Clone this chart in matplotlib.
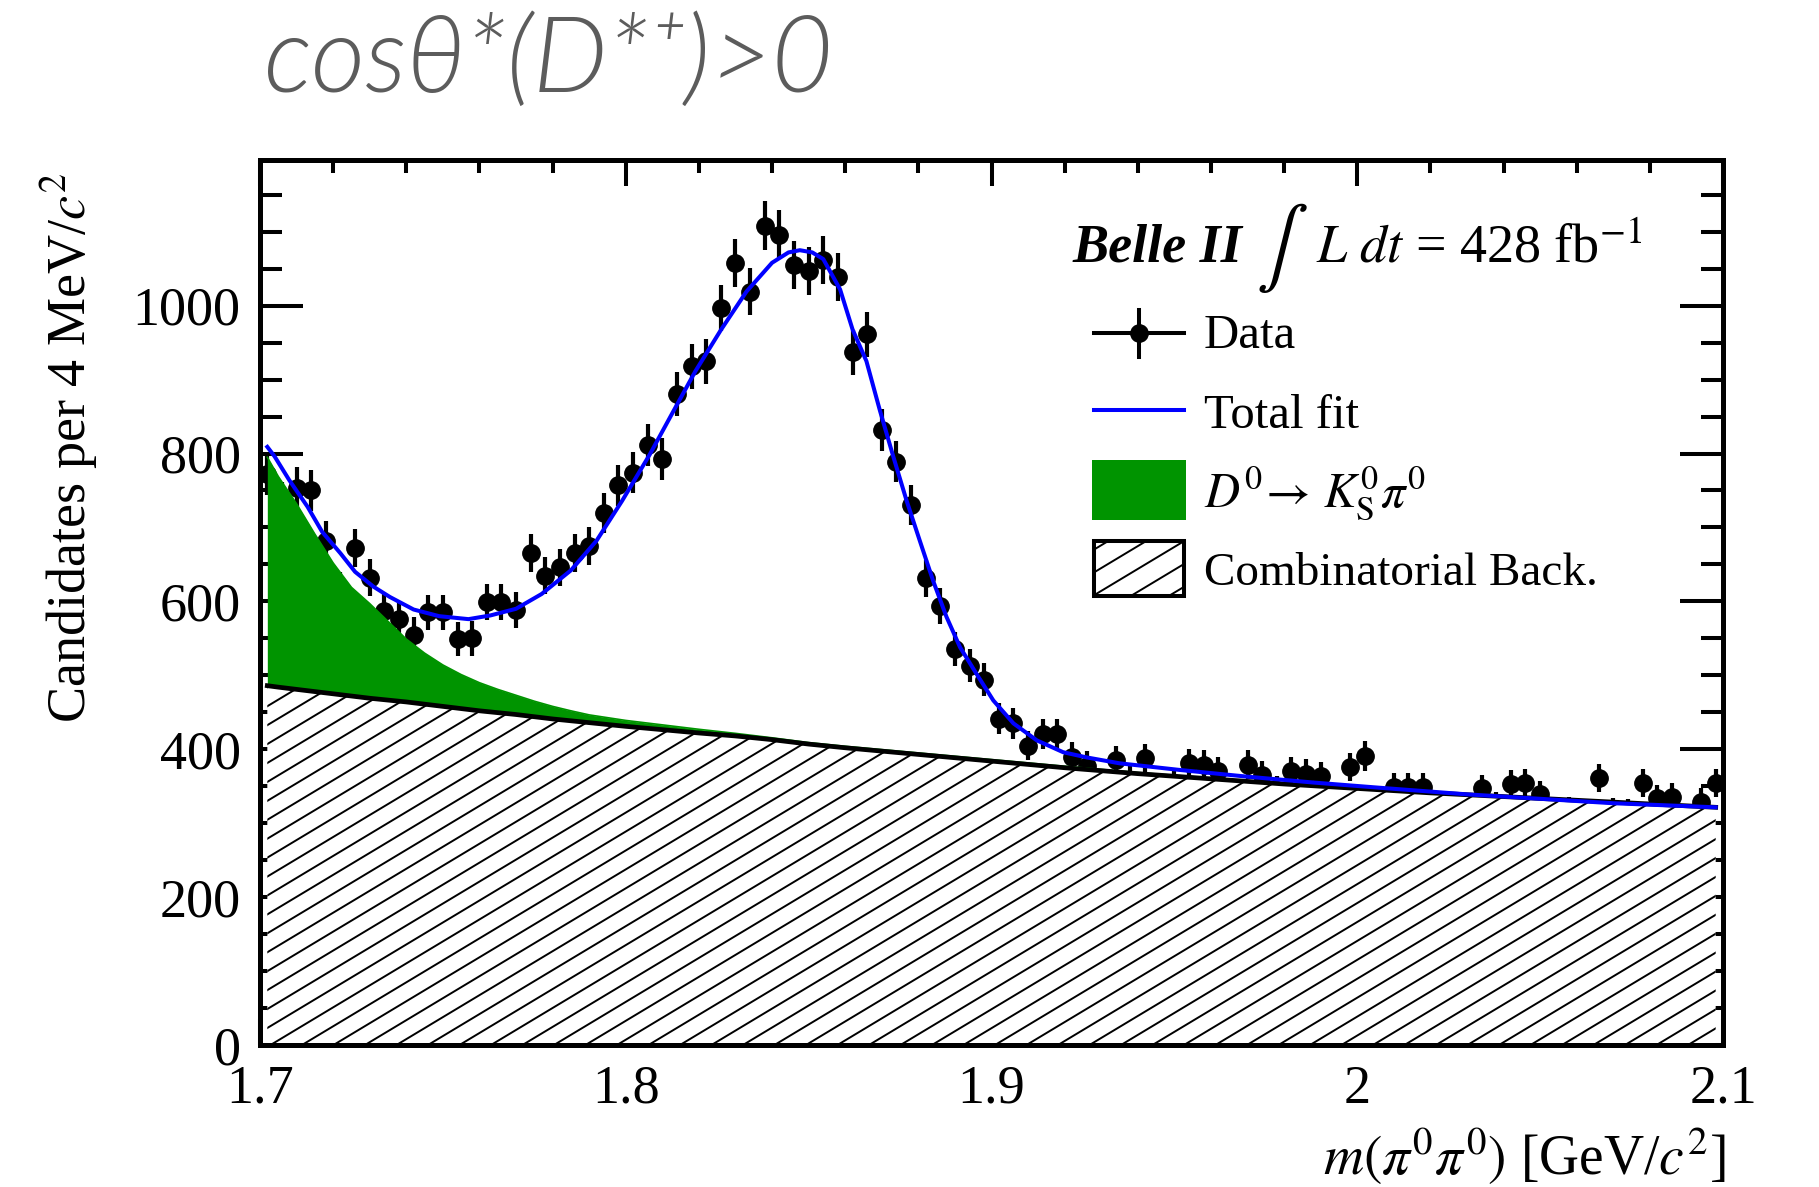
import numpy as np
import matplotlib
matplotlib.use("Agg")
import matplotlib.pyplot as plt
from matplotlib.ticker import MultipleLocator, AutoMinorLocator, FuncFormatter
from matplotlib.patches import Polygon, Rectangle
from matplotlib.collections import LineCollection
from matplotlib.lines import Line2D

plt.rcParams['font.family'] = ['Liberation Serif', 'DejaVu Serif']
plt.rcParams['mathtext.fontset'] = 'stix'

# m(pi0 pi0) histogram, 4 MeV bins from 1.7 to 2.1 GeV
bin_edges = np.linspace(1.7, 2.1, 101)
counts = np.array([
    772, 735, 754, 750, 682, 615, 672, 632, 587, 576,
    555, 585, 585, 549, 550, 599, 599, 588, 665, 635,
    646, 666, 675, 720, 757, 774, 812, 793, 880, 918,
    925, 997, 1058, 1019, 1108, 1096, 1055, 1047, 1062, 1039,
    937, 961, 832, 789, 730, 631, 594, 536, 513, 494,
    441, 435, 405, 421, 421, 390, 378, 350, 385, 358,
    388, 348, 355, 381, 379, 370, 340, 379, 365, 345,
    370, 367, 364, 330, 376, 391, 325, 349, 349, 349,
    320, 322, 318, 347, 324, 353, 355, 339, 315, 318,
    312, 361, 316, 315, 354, 334, 336, 305, 329, 354])

# fit components (stacked): combinatorial background and background + D0 -> Ks pi0
comp_x = [1.702, 1.705, 1.710, 1.715, 1.720, 1.725, 1.730, 1.735, 1.740, 1.745,
          1.750, 1.755, 1.760, 1.765, 1.770, 1.775, 1.780, 1.785, 1.790, 1.800,
          1.810, 1.820, 1.830, 1.840, 1.850, 1.860, 1.870, 1.880, 1.890, 1.900,
          1.920, 1.940, 1.960, 1.980, 2.000, 2.020, 2.040, 2.060, 2.080, 2.098]
comb_bkg = [486, 484, 481, 478, 475, 472, 469, 466.5, 464, 461,
            458, 455, 452, 449.5, 447, 444, 441, 438.5, 436, 431,
            426.5, 422, 418, 413, 407, 402, 397.5, 393, 388.5, 384,
            375, 367, 360, 353, 347, 341, 336, 331, 326, 321.5]
ks_stack = [795, 769, 732, 691, 652, 619, 597, 573, 549, 530,
            514, 501, 490, 481, 473, 465, 458, 452, 446.5, 439,
            433, 427, 421.5, 415.5, 409, 404, 399.5, 395, 390.5, 386,
            377, 368.5, 361, 353.8, 347.4, 341.2, 336, 331, 326, 321.5]

# total fit curve
fit_x = [1.702, 1.704, 1.708, 1.713, 1.717, 1.722, 1.726, 1.731, 1.7355, 1.742,
         1.749, 1.757, 1.763, 1.770, 1.777, 1.785, 1.792, 1.799, 1.8066, 1.813,
         1.819, 1.826, 1.833, 1.840, 1.8445, 1.8476, 1.851, 1.854, 1.8586, 1.862,
         1.8658, 1.8695, 1.8732, 1.8768, 1.8804, 1.8841, 1.8877, 1.8914, 1.8959, 1.9005,
         1.906, 1.9124, 1.9196, 1.926, 1.935, 1.9515, 1.9698, 1.988, 2.006, 2.03,
         2.05, 2.07, 2.098]
fit_y = [809, 796, 764, 728, 694, 665, 640, 620, 606, 589,
         580, 576, 581, 590, 610, 642, 682, 736, 799, 857,
         911, 967, 1019, 1058, 1072, 1075, 1072, 1063, 1022, 968,
         925, 858, 795, 736, 682, 627, 579, 538, 502, 466,
         435, 412, 396, 389, 381, 372, 363, 355, 348, 339,
         333, 327, 321.5]

W_PX, H_PX = 1819, 1187
AX_L, AX_R, AX_T, AX_B = 260, 1723, 160, 1045

fig = plt.figure(figsize=(W_PX / 100, H_PX / 100), dpi=100)
ax = fig.add_axes([AX_L / W_PX, 1 - AX_B / H_PX, (AX_R - AX_L) / W_PX, (AX_B - AX_T) / H_PX])

centers = 0.5 * (bin_edges[:-1] + bin_edges[1:])
ax.errorbar(centers, counts, yerr=np.sqrt(counts), fmt='o', color='black',
            ms=12.5, elinewidth=3.0, capsize=0, zorder=2)

ax.fill_between(comp_x, comb_bkg, ks_stack, color='#009400', lw=0, zorder=3)

# hatched combinatorial background
bkg_poly = Polygon(list(zip(comp_x, comb_bkg)) + [(comp_x[-1], 0), (comp_x[0], 0)],
                   closed=True, facecolor='white', edgecolor='none', zorder=4)
ax.add_patch(bkg_poly)


def hatch_lines(target, spacing_px=31.5, angle_deg=31.0, lw=1.4, zorder=4.1, axes=ax):
    w = AX_R - AX_L
    h = AX_B - AX_T
    slope = np.tan(np.radians(angle_deg)) * w / h
    dx = spacing_px / w
    segs = []
    c = -1.5
    while c < 1.1:
        segs.append([(c, 0.0), (c + 1.0 / slope * 1.2, 1.2)])
        c += dx
    lc = LineCollection(segs, colors='black', linewidths=lw, transform=axes.transAxes,
                        zorder=zorder)
    axes.add_collection(lc)
    lc.set_clip_path(target)
    return lc


hatch_lines(bkg_poly)
ax.plot(comp_x, ks_stack, color='#009400', lw=1.2, zorder=4.5)
ax.plot(comp_x, comb_bkg, color='black', lw=3.4, zorder=5)
ax.plot(fit_x, fit_y, color='#0000ff', lw=2.9, zorder=6)

ax.set_xlim(1.7, 2.1)
ax.set_ylim(0, 1197)
ax.xaxis.set_major_locator(MultipleLocator(0.1))
ax.xaxis.set_minor_locator(AutoMinorLocator(5))
ax.yaxis.set_major_locator(MultipleLocator(200))
ax.yaxis.set_minor_locator(AutoMinorLocator(4))
ax.xaxis.set_major_formatter(FuncFormatter(lambda v, p: f'{round(v, 3):g}'))
ax.tick_params(axis='both', which='both', direction='in', top=True, right=True,
               width=2.9, labelsize=39, colors='black')
ax.tick_params(axis='x', which='major', length=19, pad=14)
ax.tick_params(axis='x', which='minor', length=9)
ax.tick_params(axis='y', which='major', length=31, pad=14)
ax.tick_params(axis='y', which='minor', length=16)
for sp in ax.spines.values():
    sp.set_linewidth(3.6)
    sp.set_zorder(10)

# axis titles, aligned to the far end like ROOT does
fig.text(70 / W_PX, 1 - 172 / H_PX, r'Candidates per 4 MeV/$c^{2}$', rotation=90,
         ha='center', va='top', fontsize=39)
fig.text(1725 / W_PX, 1 - 1175 / H_PX,
         r'$\mathit{m(}\pi^{\mathit{0}}\pi^{\mathit{0}}\mathit{)}$ [GeV/$c^{2}$]',
         ha='right', va='baseline', fontsize=40)

# header
fig.text(264 / W_PX, 1 - 92 / H_PX, 'cos\u03b8*(D*\u207a)>0', ha='left', va='baseline',
         fontsize=76, color='#5c5c5c', style='italic', weight=300,
         family=['Lato', 'Open Sans', 'DejaVu Sans'])


# legend, drawn in axes fraction
def axf(px, py):
    return (px - AX_L) / (AX_R - AX_L), (AX_B - py) / (AX_B - AX_T)


tr = ax.transAxes
x0, ytxt = axf(1072, 262)
t_belle = ax.text(x0, ytxt, 'Belle II', transform=tr, fontsize=39, weight='bold',
                  style='italic', ha='left', va='baseline', zorder=20)
t_int = ax.text(x0, axf(0, 268)[1], r'$\int$', transform=tr, fontsize=56,
                ha='left', va='baseline', zorder=20)
t_lumi = ax.text(x0, ytxt, r'$L\ dt$ = 428 fb$^{-1}$', transform=tr, fontsize=39,
                 ha='left', va='baseline', zorder=20)

# place the pieces of the luminosity line one after another
fig.canvas.draw()
inv = ax.transAxes.inverted()
bb = t_belle.get_window_extent()
t_int.set_x(inv.transform((bb.x1 + 14, 0))[0])
bb = t_int.get_window_extent()
t_lumi.set_x(inv.transform((bb.x1 + 8, 0))[0])

hx0, _ = axf(1094, 0)
hx1, _ = axf(1184, 0)
hxm, _ = axf(1139, 0)
tx, _ = axf(1204, 0)

_, yd = axf(0, 333)
_, yd0 = axf(0, 310)
_, yd1 = axf(0, 357)
ax.add_line(Line2D([hx0, hx1], [yd, yd], color='black', lw=2.9, transform=tr, zorder=20))
ax.add_line(Line2D([hxm, hxm], [yd0, yd1], color='black', lw=2.9, transform=tr, zorder=20))
ax.add_line(Line2D([hxm], [yd], marker='o', ms=12.5, color='black', transform=tr, zorder=20))
ax.text(tx, axf(0, 348)[1], 'Data', transform=tr, fontsize=35, va='baseline', zorder=20)

_, yf = axf(0, 410)
ax.add_line(Line2D([hx0, hx1], [yf, yf], color='#0000ff', lw=2.9, transform=tr, zorder=20))
ax.text(tx, axf(0, 428)[1], 'Total fit', transform=tr, fontsize=35, va='baseline', zorder=20)

bx0, by0 = axf(1092, 520)
bx1, by1 = axf(1186, 460)
ax.add_patch(Rectangle((bx0, by0), bx1 - bx0, by1 - by0, facecolor='#009400',
                       edgecolor='none', transform=tr, zorder=20))
ax.text(tx, axf(0, 507)[1], r'$D^{0}\!\rightarrow\, K_{\rm S}^{0}\pi^{0}$', transform=tr,
        fontsize=35, va='baseline', zorder=20)

cx0, cy0 = axf(1094, 596)
cx1, cy1 = axf(1184, 541)
hbox = Rectangle((cx0, cy0), cx1 - cx0, cy1 - cy0, facecolor='white', edgecolor='black',
                 lw=2.9, transform=tr, zorder=20)
ax.add_patch(hbox)
hatch_lines(hbox, spacing_px=38, zorder=20.5)
ax.text(tx, axf(0, 585)[1], 'Combinatorial Back.', transform=tr, fontsize=34,
        va='baseline', zorder=20)

fig.savefig('out.png', dpi=100)
